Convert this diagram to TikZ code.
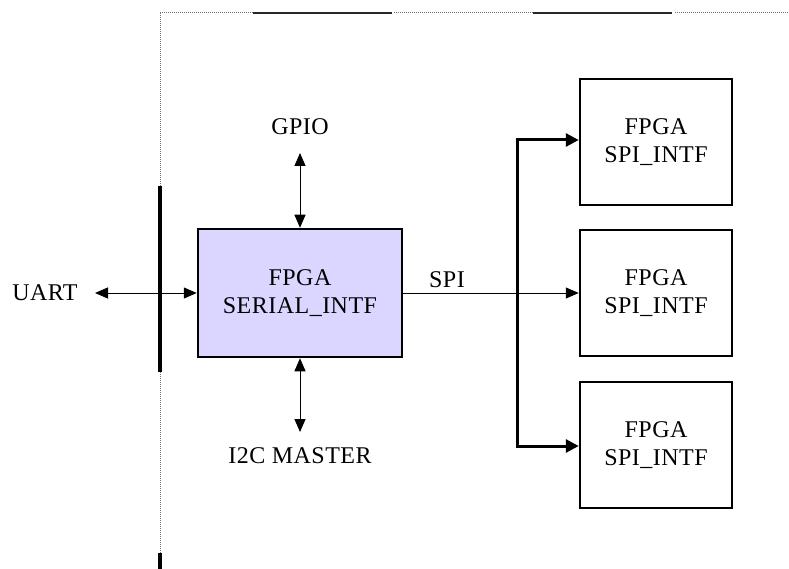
\documentclass[tikz,border=0pt]{standalone}
\usepackage{fontspec}
\setmainfont{Liberation Serif}[LetterSpace=2]
\usetikzlibrary{arrows.meta}
\definecolor{boxfill}{RGB}{218,214,255}
\tikzset{
  blk/.style={draw, line width=2.5pt, minimum width=152pt, minimum height=126pt, align=center, inner sep=0pt},
  lbl/.style={inner sep=0pt, anchor=base},
  sig/.style={line width=1pt, {Triangle[length=13pt,width=11pt]}-{Triangle[length=13pt,width=11pt]}},
  sigone/.style={line width=1pt, -{Triangle[length=13pt,width=11pt]}},
  busarrow/.style={line width=3pt, -{Triangle[length=13pt,width=13pt]}},
  frame dot/.style={line width=1pt, black!55, dash pattern=on 1pt off 1pt},
  frame solid/.style={line width=2pt, black!85},
}
\begin{document}
\begin{tikzpicture}[x=1pt, y=-1pt, font=\fontsize{24}{28}\selectfont]
	%%%%% START %%%%%
	\useasboundingbox (0,0) rectangle (789,569);
	
	% frame at top and left
	\draw[frame dot] (160,13) -- (253,13);
	\draw[frame solid] (253,13) -- (392,13);
	\draw[frame dot] (394,13) -- (533,13);
	\draw[frame solid] (533,13) -- (672,13);
	\draw[frame dot] (675,13) -- (789,13);
	\draw[frame dot] (160,13) -- (160,186);
	\draw[line width=4pt] (160,186) -- (160,372);
	\draw[frame dot] (160,372) -- (160,553);
	\draw[line width=4pt] (160,553) -- (160,569);
	
	% blocks
	\node[blk, fill=boxfill, minimum width=204pt, minimum height=128pt] (serial) at (300,293) {FPGA\\SERIAL\_INTF};
	\node[blk] (spi1) at (656,142) {FPGA\\SPI\_INTF};
	\node[blk] (spi2) at (656,293) {FPGA\\SPI\_INTF};
	\node[blk] (spi3) at (656,445) {FPGA\\SPI\_INTF};
	
	% labels
	\node[lbl] (uart) at (45,300) {UART};
	\node[lbl] (gpio) at (300,135) {GPIO};
	\node[lbl] (i2c) at (300,463) {I2C MASTER};
	\node[lbl] (spilbl) at (447,287) {SPI};
	
	\coordinate (uart end) at (95,293);
	\coordinate (gpio end) at (300,153);
	\coordinate (i2c end) at (300,432);
	\coordinate (bus top) at (517,140);
	\coordinate (bus bot) at (517,446);
	
	% connectors
	\draw[sig] (uart end) -- (serial.west);
	\draw[sig] (gpio end) -- (serial.north);
	\draw[sig] (i2c end) -- (serial.south);
	\draw[sigone] (serial.east) -- (spi2.west);
	
	\draw[line width=3pt] (bus top) -- (bus bot);
	\draw[busarrow] ([xshift=-1.5pt]bus top) -- (bus top -| spi1.west);
	\draw[busarrow] ([xshift=-1.5pt]bus bot) -- (bus bot -| spi3.west);
	
	%%%%% END %%%%%
\end{tikzpicture}
\end{document}
